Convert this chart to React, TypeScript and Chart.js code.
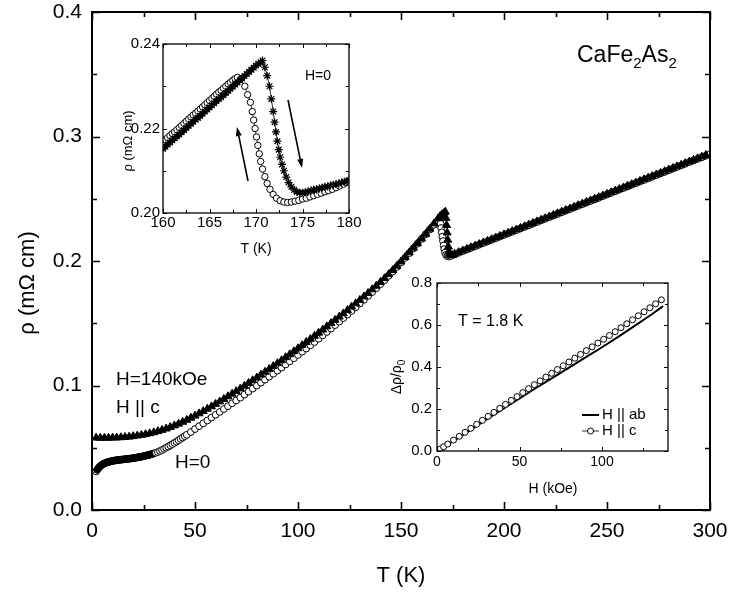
import React, { useEffect, useRef } from 'react';
import { Chart, registerables } from 'chart.js';
Chart.register(...registerables);

const FONT = "'Liberation Sans', Arial, Helvetica, sans-serif";

// ---------- main panel: rho(T) ----------
const H0_T = [
  2, 2.5, 3, 3.5, 4, 4.5, 5, 5.5, 6, 6.5,
  7, 7.5, 8, 8.5, 9, 9.5, 10, 10.5, 11, 11.5,
  12, 12.5, 13, 13.5, 14, 14.5, 15, 15.5, 16, 16.5,
  17, 17.5, 18, 18.5, 19, 19.5, 20, 20.5, 21, 21.5,
  22, 22.5, 23, 23.5, 24, 24.5, 25, 25.5, 26, 26.5,
  27, 27.5, 28, 28.5, 29, 29.5, 30,
  31, 32, 33, 34, 35, 36, 37, 38, 39, 40,
  41, 42, 43, 44, 45, 46,
  48, 50, 52, 54, 56, 58, 60, 62, 64, 66,
  68, 70, 72, 74, 76, 78, 80, 82, 84, 86,
  88, 90, 92, 94, 96, 98, 100, 102, 104, 106,
  108, 110, 112, 114, 116, 118, 120, 122, 124, 126,
  128, 130, 132, 134, 136, 138, 140, 142, 144, 146,
  148, 150, 152, 154, 156, 158, 160, 162, 164, 166,
  167, 168, 168.8, 169.2, 169.5, 169.8, 170.1, 170.4, 170.7, 171.0, 171.4, 171.9, 172.5, 173.2,
  174, 176, 178, 180, 182, 184, 186, 188, 190, 192,
  194, 196, 198, 200, 202, 204, 206, 208, 210, 212,
  214, 216, 218, 220, 222, 224, 226, 228, 230, 232,
  234, 236, 238, 240, 242, 244, 246, 248, 250, 252,
  254, 256, 258, 260, 262, 264, 266, 268, 270, 272,
  274, 276, 278, 280, 282, 284, 286, 288, 290, 292,
  294, 296, 298, 300,
];
const H0_RHO = [
  0.0310, 0.0323, 0.0334, 0.0344, 0.0352, 0.0359, 0.0365, 0.0370, 0.0374, 0.0378,
  0.0381, 0.0384, 0.0386, 0.0388, 0.0390, 0.0392, 0.0394, 0.0396, 0.0397, 0.0399,
  0.0400, 0.0401, 0.0402, 0.0403, 0.0404, 0.0405, 0.0406, 0.0407, 0.0408, 0.0409,
  0.0410, 0.0411, 0.0412, 0.0413, 0.0414, 0.0415, 0.0416, 0.0418, 0.0419, 0.0421,
  0.0422, 0.0424, 0.0425, 0.0427, 0.0428, 0.0430, 0.0432, 0.0434, 0.0436, 0.0438,
  0.0440, 0.0442, 0.0444, 0.0447, 0.0449, 0.0452, 0.0454,
  0.0460, 0.0466, 0.0474, 0.0482, 0.0491, 0.0500, 0.0509, 0.0519, 0.0529, 0.0539,
  0.0549, 0.0560, 0.0571, 0.0582, 0.0593, 0.0604,
  0.0627, 0.0650, 0.0673, 0.0696, 0.0719, 0.0742, 0.0765, 0.0788, 0.0811, 0.0834,
  0.0857, 0.0880, 0.0903, 0.0927, 0.0951, 0.0975, 0.0999, 0.1023, 0.1047, 0.1071,
  0.1095, 0.1119, 0.1144, 0.1169, 0.1194, 0.1219, 0.1245, 0.1271, 0.1297, 0.1323,
  0.1349, 0.1376, 0.1403, 0.1430, 0.1457, 0.1485, 0.1513, 0.1541, 0.1570, 0.1599,
  0.1628, 0.1658, 0.1688, 0.1719, 0.1750, 0.1782, 0.1814, 0.1847, 0.1881, 0.1916,
  0.1952, 0.1988, 0.2025, 0.2063, 0.2101, 0.2139, 0.2177, 0.2215, 0.2253, 0.2290,
  0.2308, 0.2326, 0.2335, 0.2300, 0.2265, 0.2230, 0.2195, 0.2160, 0.2125, 0.2095, 0.2068, 0.2050, 0.2040, 0.2036,
  0.2040, 0.2053, 0.2066, 0.2079, 0.2092, 0.2105, 0.2118, 0.2131, 0.2144, 0.2157,
  0.2170, 0.2183, 0.2196, 0.2209, 0.2222, 0.2235, 0.2248, 0.2261, 0.2274, 0.2287,
  0.2300, 0.2313, 0.2326, 0.2339, 0.2352, 0.2365, 0.2378, 0.2391, 0.2404, 0.2417,
  0.2430, 0.2443, 0.2456, 0.2469, 0.2482, 0.2495, 0.2508, 0.2521, 0.2534, 0.2547,
  0.2560, 0.2573, 0.2586, 0.2599, 0.2612, 0.2625, 0.2638, 0.2651, 0.2664, 0.2677,
  0.2690, 0.2703, 0.2716, 0.2729, 0.2742, 0.2755, 0.2768, 0.2781, 0.2794, 0.2807,
  0.2820, 0.2833, 0.2846, 0.2858,
];

const H140_T = [
  2, 4, 6, 8, 10, 12, 14, 16, 18, 20,
  22, 24, 26, 28, 30, 32, 34, 36, 38, 40,
  42, 44, 46, 48, 50, 52, 54, 56, 58, 60,
  62, 64, 66, 68, 70, 72, 74, 76, 78, 80,
  82, 84, 86, 88, 90, 92, 94, 96, 98, 100,
  102, 104, 106, 108, 110, 112, 114, 116, 118, 120,
  122, 124, 126, 128, 130, 132, 134, 136, 138, 140,
  142, 144, 146, 148, 150, 152, 154, 156, 158, 160,
  162, 164, 166, 168,
  169, 170, 171, 171.5, 171.8, 172.1, 172.4, 172.7, 173.0, 173.3, 173.7, 174.2, 175,
  176, 178, 180, 182, 184, 186, 188, 190, 192, 194,
  196, 198, 200, 202, 204, 206, 208, 210, 212, 214,
  216, 218, 220, 222, 224, 226, 228, 230, 232, 234,
  236, 238, 240, 242, 244, 246, 248, 250, 252, 254,
  256, 258, 260, 262, 264, 266, 268, 270, 272, 274,
  276, 278, 280, 282, 284, 286, 288, 290, 292, 294,
  296, 298,
];
const H140_RHO = [
  0.0580, 0.0579, 0.0579, 0.0579, 0.0580, 0.0581, 0.0583, 0.0585, 0.0588, 0.0592,
  0.0597, 0.0602, 0.0608, 0.0615, 0.0623, 0.0632, 0.0642, 0.0653, 0.0665, 0.0678,
  0.0692, 0.0707, 0.0723, 0.0740, 0.0757, 0.0775, 0.0793, 0.0812, 0.0831, 0.0851,
  0.0871, 0.0891, 0.0912, 0.0933, 0.0954, 0.0975, 0.0997, 0.1019, 0.1041, 0.1063,
  0.1086, 0.1109, 0.1132, 0.1155, 0.1178, 0.1202, 0.1226, 0.1250, 0.1274, 0.1298,
  0.1323, 0.1348, 0.1373, 0.1398, 0.1423, 0.1448, 0.1474, 0.1500, 0.1526, 0.1552,
  0.1578, 0.1605, 0.1632, 0.1659, 0.1686, 0.1714, 0.1742, 0.1771, 0.1800, 0.1830,
  0.1861, 0.1893, 0.1926, 0.1960, 0.1995, 0.2031, 0.2068, 0.2105, 0.2142, 0.2179,
  0.2217, 0.2258, 0.2300, 0.2342,
  0.2360, 0.2375, 0.2388, 0.2395, 0.2345, 0.2288, 0.2228, 0.2170, 0.2115, 0.2075, 0.2052, 0.2044, 0.2046,
  0.2057, 0.2070, 0.2083, 0.2096, 0.2109, 0.2122, 0.2135, 0.2148, 0.2161, 0.2174,
  0.2187, 0.2200, 0.2213, 0.2226, 0.2239, 0.2252, 0.2265, 0.2278, 0.2291, 0.2304,
  0.2317, 0.2330, 0.2343, 0.2356, 0.2369, 0.2382, 0.2395, 0.2408, 0.2421, 0.2434,
  0.2447, 0.2460, 0.2473, 0.2486, 0.2499, 0.2512, 0.2525, 0.2538, 0.2551, 0.2564,
  0.2577, 0.2590, 0.2603, 0.2616, 0.2629, 0.2642, 0.2655, 0.2668, 0.2681, 0.2694,
  0.2707, 0.2720, 0.2733, 0.2746, 0.2759, 0.2772, 0.2785, 0.2798, 0.2811, 0.2824,
  0.2837, 0.2850,
];

const MAIN_X_MAJOR = [0, 50, 100, 150, 200, 250, 300];
const MAIN_X_MINOR = [25, 75, 125, 175, 225, 275];
const MAIN_Y_MAJOR = [0, 0.1, 0.2, 0.3, 0.4];
const MAIN_Y_MINOR = [0.05, 0.15, 0.25, 0.35];

// ---------- inset 1: hysteresis near 170 K ----------
const COOL_T = [
  160, 160.25, 160.5, 160.75, 161, 161.25, 161.5, 161.75, 162, 162.25,
  162.5, 162.75, 163, 163.25, 163.5, 163.75, 164, 164.25, 164.5, 164.75,
  165, 165.25, 165.5, 165.75, 166, 166.25, 166.5, 166.75, 167, 167.25,
  167.5, 167.75, 168,
  168.4, 168.8, 169.1, 169.4, 169.6, 169.75, 169.9, 170.05, 170.2, 170.35,
  170.5, 170.7, 170.95, 171.2, 171.5, 171.85, 172.2, 172.6, 173.0, 173.4,
  173.8, 174.2, 174.6, 175.0, 175.4, 175.8, 176.2, 176.6, 177.0, 177.4,
  177.8, 178.2, 178.6, 179.0, 179.4, 179.8,
];
const COOL_RHO = [
  0.2168, 0.2173, 0.2178, 0.2183, 0.2188, 0.2192, 0.2197, 0.2202, 0.2207, 0.2212,
  0.2217, 0.2222, 0.2227, 0.2232, 0.2236, 0.2241, 0.2246, 0.2251, 0.2256, 0.2261,
  0.2266, 0.2271, 0.2276, 0.2281, 0.2286, 0.2290, 0.2295, 0.2300, 0.2305, 0.2309,
  0.2314, 0.2318, 0.2321,
  0.2318, 0.2300, 0.2280, 0.2262, 0.2240, 0.2220, 0.2200, 0.2180, 0.2160, 0.2140,
  0.2122, 0.2104, 0.2086, 0.2070, 0.2056, 0.2044, 0.2035, 0.2029, 0.2026, 0.2025,
  0.2026, 0.2028, 0.2030, 0.2033, 0.2035, 0.2038, 0.2041, 0.2044, 0.2047, 0.2050,
  0.2053, 0.2056, 0.2060, 0.2064, 0.2068, 0.2072,
];
const WARM_T = [
  160, 160.25, 160.5, 160.75, 161, 161.25, 161.5, 161.75, 162, 162.25,
  162.5, 162.75, 163, 163.25, 163.5, 163.75, 164, 164.25, 164.5, 164.75,
  165, 165.25, 165.5, 165.75, 166, 166.25, 166.5, 166.75, 167, 167.25,
  167.5, 167.75, 168, 168.25, 168.5, 168.75, 169, 169.25, 169.5, 169.75,
  170, 170.25, 170.5, 170.7,
  170.95, 171.2, 171.45, 171.65, 171.85, 172.0, 172.15, 172.3, 172.45, 172.6,
  172.8, 173.0, 173.25, 173.5, 173.8, 174.1, 174.4, 174.7, 175.0, 175.3,
  175.6, 175.9, 176.2, 176.5, 176.8, 177.1, 177.4, 177.7, 178.0, 178.3,
  178.6, 178.9, 179.2, 179.5, 179.8, 180,
];
const WARM_RHO = [
  0.2152, 0.2157, 0.2162, 0.2167, 0.2172, 0.2177, 0.2181, 0.2186, 0.2191, 0.2196,
  0.2201, 0.2206, 0.2211, 0.2216, 0.2221, 0.2225, 0.2230, 0.2235, 0.2240, 0.2245,
  0.2250, 0.2255, 0.2260, 0.2265, 0.2270, 0.2274, 0.2279, 0.2284, 0.2289, 0.2294,
  0.2299, 0.2304, 0.2309, 0.2314, 0.2319, 0.2324, 0.2329, 0.2334, 0.2339, 0.2344,
  0.2349, 0.2353, 0.2357, 0.2361,
  0.2345, 0.2325, 0.2300, 0.2270, 0.2240, 0.2215, 0.2192, 0.2170, 0.2150, 0.2132,
  0.2115, 0.2100, 0.2085, 0.2072, 0.2062, 0.2055, 0.2050, 0.2048, 0.2048, 0.2049,
  0.2051, 0.2053, 0.2055, 0.2056, 0.2058, 0.2060, 0.2062, 0.2063, 0.2065, 0.2067,
  0.2068, 0.2070, 0.2072, 0.2074, 0.2076, 0.2077,
];
const IN1_X_MAJOR = [160, 165, 170, 175, 180];
const IN1_X_MINOR = [162.5, 167.5, 172.5, 177.5];
const IN1_Y_MAJOR = [0.2, 0.22, 0.24];
const IN1_Y_MINOR = [0.21, 0.23];

// ---------- inset 2: magnetoresistance at 1.8 K ----------
const HC_H = [
  0.5, 2, 4, 6.5, 10, 13.5, 17, 20.5, 24, 27.5,
  31, 34.5, 38, 41.5, 45, 48.5, 52, 55.5, 59, 62.5,
  66, 69.5, 73, 76.5, 80, 83.5, 87, 90.5, 94, 97.5,
  101, 104.5, 108, 111.5, 115, 118.5, 122, 125.5, 129, 132.5, 136,
];
const HC_DR = [
  0.003, 0.010, 0.020, 0.033, 0.052, 0.070, 0.089, 0.108, 0.127, 0.146,
  0.165, 0.184, 0.203, 0.222, 0.241, 0.259, 0.278, 0.297, 0.316, 0.334,
  0.352, 0.370, 0.388, 0.406, 0.424, 0.442, 0.460, 0.478, 0.496, 0.514,
  0.532, 0.550, 0.568, 0.587, 0.606, 0.625, 0.644, 0.663, 0.682, 0.701, 0.720,
];
const HAB_H = [0, 10, 20, 30, 40, 50, 60, 70, 80, 90, 100, 110, 120, 130, 137];
const HAB_DR = [0, 0.048, 0.098, 0.150, 0.200, 0.250, 0.300, 0.348, 0.397, 0.446, 0.494, 0.545, 0.597, 0.650, 0.690];
const IN2_X_MAJOR = [0, 50, 100];
const IN2_X_MINOR = [25, 75, 125];
const IN2_Y_MAJOR = [0, 0.2, 0.4, 0.6, 0.8];
const IN2_Y_MINOR = [0.1, 0.3, 0.5, 0.7];

const pts = (xs: number[], ys: number[]) => xs.map((x, i) => ({ x, y: ys[i] }));

type TickCfg = {
  xMajor: number[]; xMinor: number[]; yMajor: number[]; yMinor: number[];
  major: number; minor: number; lw: number; frameLw: number;
};

function framePlugin(o: TickCfg) {
  return {
    id: 'frameTicks',
    afterDraw(chart: any) {
      const { ctx, chartArea: a, scales } = chart;
      const xs = scales.x;
      const ys = scales.y;
      ctx.save();
      ctx.strokeStyle = '#000';
      ctx.lineWidth = o.lw;
      ctx.beginPath();
      const vx = (vals: number[], len: number) => {
        for (const v of vals) {
          const p = Math.round(xs.getPixelForValue(v)) + 0.5;
          ctx.moveTo(p, a.bottom); ctx.lineTo(p, a.bottom - len);
          ctx.moveTo(p, a.top); ctx.lineTo(p, a.top + len);
        }
      };
      const vy = (vals: number[], len: number) => {
        for (const v of vals) {
          const p = Math.round(ys.getPixelForValue(v)) + 0.5;
          ctx.moveTo(a.left, p); ctx.lineTo(a.left + len, p);
          ctx.moveTo(a.right, p); ctx.lineTo(a.right - len, p);
        }
      };
      vx(o.xMajor, o.major); vx(o.xMinor, o.minor);
      vy(o.yMajor, o.major); vy(o.yMinor, o.minor);
      ctx.stroke();
      ctx.lineWidth = o.frameLw;
      ctx.strokeRect(a.left, a.top, a.right - a.left, a.bottom - a.top);
      ctx.restore();
    },
  };
}

function textPlugin(draw: (ctx: CanvasRenderingContext2D) => void) {
  return {
    id: 'texts',
    afterDraw(chart: any) {
      const ctx = chart.ctx as CanvasRenderingContext2D;
      ctx.save();
      ctx.fillStyle = '#000';
      ctx.strokeStyle = '#000';
      draw(ctx);
      ctx.restore();
    },
  };
}

function txt(ctx: CanvasRenderingContext2D, s: string, x: number, y: number, size: number,
  align: CanvasTextAlign = 'left', baseline: CanvasTextBaseline = 'alphabetic') {
  ctx.font = `${size}px ${FONT}`;
  ctx.textAlign = align;
  ctx.textBaseline = baseline;
  ctx.fillText(s, x, y);
}

function vtxt(ctx: CanvasRenderingContext2D, s: string, x: number, y: number, size: number) {
  ctx.save();
  ctx.translate(x, y);
  ctx.rotate(-Math.PI / 2);
  txt(ctx, s, 0, 0, size, 'center', 'middle');
  ctx.restore();
}

function arrow(ctx: CanvasRenderingContext2D, x1: number, y1: number, x2: number, y2: number) {
  const ang = Math.atan2(y2 - y1, x2 - x1);
  const hl = 9, hw = 3;
  const bx = x2 - Math.cos(ang) * hl, by = y2 - Math.sin(ang) * hl;
  ctx.lineWidth = 1.6;
  ctx.beginPath(); ctx.moveTo(x1, y1); ctx.lineTo(bx, by); ctx.stroke();
  ctx.beginPath();
  ctx.moveTo(x2, y2);
  ctx.lineTo(bx + Math.sin(ang) * hw, by - Math.cos(ang) * hw);
  ctx.lineTo(bx - Math.sin(ang) * hw, by + Math.cos(ang) * hw);
  ctx.closePath(); ctx.fill();
}

const baseOpts = {
  animation: false as const,
  responsive: false,
  maintainAspectRatio: false,
  devicePixelRatio: 1,
  events: [] as any[],
  plugins: { legend: { display: false }, tooltip: { enabled: false } },
};

function makeMain(canvas: HTMLCanvasElement) {
  return new Chart(canvas, {
    type: 'scatter',
    data: {
      datasets: [
        {
          data: pts(H140_T, H140_RHO), pointStyle: 'triangle', pointRadius: 4.6,
          backgroundColor: '#000', borderColor: '#000', borderWidth: 1, showLine: false,
        },
        {
          data: pts(H0_T, H0_RHO), pointStyle: 'circle', pointRadius: 3.4,
          // densely measured low-T points merge into a solid band
          backgroundColor: (c: any) => (c.raw && c.dataIndex > 0 && c.raw.x <= 30 ? '#000' : '#fff'),
          borderColor: '#000', borderWidth: 1, showLine: false,
        },
      ],
    },
    options: {
      ...baseOpts,
      layout: { padding: { left: 0, top: 12, right: 22, bottom: 0 } },
      scales: {
        x: {
          type: 'linear', min: 0, max: 300,
          grid: { display: false, drawTicks: false }, border: { display: false },
          ticks: { stepSize: 50, color: '#000', font: { family: FONT, size: 21 }, padding: 9, maxRotation: 0, autoSkip: false },
          afterFit: (s: any) => { s.height = 84; s.paddingLeft = 0; s.paddingRight = 0; },
        },
        y: {
          type: 'linear', min: 0, max: 0.4,
          grid: { display: false, drawTicks: false }, border: { display: false },
          ticks: { stepSize: 0.1, color: '#000', font: { family: FONT, size: 21 }, padding: 10, callback: (v: any) => Number(v).toFixed(1) },
          afterFit: (s: any) => { s.width = 92; s.paddingTop = 0; s.paddingBottom = 0; },
        },
      },
    } as any,
    plugins: [
      framePlugin({ xMajor: MAIN_X_MAJOR, xMinor: MAIN_X_MINOR, yMajor: MAIN_Y_MAJOR, yMinor: MAIN_Y_MINOR, major: 8, minor: 5, lw: 1.6, frameLw: 2 }),
      textPlugin((ctx) => {
        txt(ctx, 'T (K)', 401, 576, 22, 'center', 'middle');
        vtxt(ctx, 'ρ (mΩ cm)', 28, 283, 22);
        txt(ctx, 'H=140kOe', 116, 385, 19);
        txt(ctx, 'H || c', 116, 413, 19);
        txt(ctx, 'H=0', 175, 468, 19);
        let x = 577;
        const base = 62;
        const part = (s: string, size: number, dy: number) => {
          ctx.font = `${size}px ${FONT}`;
          ctx.textAlign = 'left'; ctx.textBaseline = 'alphabetic';
          ctx.fillText(s, x, base + dy);
          x += ctx.measureText(s).width;
        };
        part('CaFe', 23, 0); part('2', 15, 6); part('As', 23, 0); part('2', 15, 6);
      }),
    ],
  });
}

function makeInset1(canvas: HTMLCanvasElement) {
  return new Chart(canvas, {
    type: 'scatter',
    data: {
      datasets: [
        {
          data: pts(WARM_T, WARM_RHO), showLine: true, borderColor: '#000', borderWidth: 0.8,
          pointStyle: 'star', pointRadius: 4, pointBackgroundColor: '#000', pointBorderColor: '#000', pointBorderWidth: 1.2,
        },
        {
          data: pts(COOL_T, COOL_RHO), showLine: true, borderColor: '#000', borderWidth: 0.8,
          pointStyle: 'circle', pointRadius: 3.2, pointBackgroundColor: '#fff', pointBorderColor: '#000', pointBorderWidth: 1,
        },
      ],
    },
    options: {
      ...baseOpts,
      layout: { padding: { left: 0, top: 24, right: 13, bottom: 0 } },
      scales: {
        x: {
          type: 'linear', min: 160, max: 180,
          grid: { display: false, drawTicks: false }, border: { display: false },
          ticks: { stepSize: 5, color: '#000', font: { family: FONT, size: 15 }, padding: 1, maxRotation: 0, autoSkip: false },
          afterFit: (s: any) => { s.height = 47; s.paddingLeft = 0; s.paddingRight = 0; },
        },
        y: {
          type: 'linear', min: 0.2, max: 0.24,
          grid: { display: false, drawTicks: false }, border: { display: false },
          ticks: { stepSize: 0.02, color: '#000', font: { family: FONT, size: 15 }, padding: 3, callback: (v: any) => Number(v).toFixed(2) },
          afterFit: (s: any) => { s.width = 63; s.paddingTop = 0; s.paddingBottom = 0; },
        },
      },
    } as any,
    plugins: [
      framePlugin({ xMajor: IN1_X_MAJOR, xMinor: IN1_X_MINOR, yMajor: IN1_Y_MAJOR, yMinor: IN1_Y_MINOR, major: 4, minor: 3, lw: 1, frameLw: 1.3 }),
      textPlugin((ctx) => {
        txt(ctx, 'T (K)', 156, 229, 14, 'center', 'middle');
        vtxt(ctx, 'ρ (mΩ cm)', 28, 121, 13);
        txt(ctx, 'H=0', 205, 60, 14);
        arrow(ctx, 148, 161, 137, 107);
        arrow(ctx, 188, 80, 202, 148);
      }),
    ],
  });
}

function makeInset2(canvas: HTMLCanvasElement) {
  return new Chart(canvas, {
    type: 'scatter',
    data: {
      datasets: [
        {
          data: pts(HC_H, HC_DR), showLine: true, borderColor: '#000', borderWidth: 0.6,
          pointStyle: 'circle', pointRadius: 3, pointBackgroundColor: '#fff', pointBorderColor: '#000', pointBorderWidth: 1,
        },
        {
          data: pts(HAB_H, HAB_DR), showLine: true, borderColor: '#000', borderWidth: 2, pointRadius: 0,
        },
      ],
    },
    options: {
      ...baseOpts,
      layout: { padding: { left: 0, top: 13, right: 14, bottom: 0 } },
      scales: {
        x: {
          type: 'linear', min: 0, max: 140,
          grid: { display: false, drawTicks: false }, border: { display: false },
          ticks: { stepSize: 50, includeBounds: false, color: '#000', font: { family: FONT, size: 14 }, padding: 3, maxRotation: 0, autoSkip: false },
          afterFit: (s: any) => { s.height = 54; s.paddingLeft = 0; s.paddingRight = 0; },
        },
        y: {
          type: 'linear', min: 0, max: 0.8,
          grid: { display: false, drawTicks: false }, border: { display: false },
          ticks: { stepSize: 0.2, color: '#000', font: { family: FONT, size: 15 }, padding: 5, callback: (v: any) => Number(v).toFixed(1) },
          afterFit: (s: any) => { s.width = 67; s.paddingTop = 0; s.paddingBottom = 0; },
        },
      },
    } as any,
    plugins: [
      framePlugin({ xMajor: IN2_X_MAJOR, xMinor: IN2_X_MINOR, yMajor: IN2_Y_MAJOR, yMinor: IN2_Y_MINOR, major: 4, minor: 3, lw: 1, frameLw: 1.3 }),
      textPlugin((ctx) => {
        txt(ctx, 'T = 1.8 K', 88, 52, 16, 'left', 'middle');
        txt(ctx, 'H (kOe)', 183, 219, 14, 'center', 'middle');
        ctx.save();
        ctx.translate(27, 107);
        ctx.rotate(-Math.PI / 2);
        ctx.font = `14px ${FONT}`;
        const w1 = ctx.measureText('Δρ/ρ').width;
        ctx.font = `10px ${FONT}`;
        const w2 = ctx.measureText('0').width;
        const x0 = -(w1 + w2) / 2;
        txt(ctx, 'Δρ/ρ', x0, 4, 14);
        txt(ctx, '0', x0 + w1, 8, 10);
        ctx.restore();
        ctx.lineWidth = 2;
        ctx.beginPath(); ctx.moveTo(212, 145); ctx.lineTo(229, 145); ctx.stroke();
        txt(ctx, 'H || ab', 232, 145, 15, 'left', 'middle');
        ctx.lineWidth = 0.8;
        ctx.beginPath(); ctx.moveTo(212, 161); ctx.lineTo(229, 161); ctx.stroke();
        ctx.fillStyle = '#fff';
        ctx.lineWidth = 1;
        ctx.beginPath(); ctx.arc(220.5, 161, 3, 0, Math.PI * 2); ctx.fill(); ctx.stroke();
        ctx.fillStyle = '#000';
        txt(ctx, 'H || c', 232, 161, 15, 'left', 'middle');
      }),
    ],
  });
}

export default function App() {
  const mainRef = useRef<HTMLCanvasElement>(null);
  const in1Ref = useRef<HTMLCanvasElement>(null);
  const in2Ref = useRef<HTMLCanvasElement>(null);
  useEffect(() => {
    const charts = [
      makeMain(mainRef.current!),
      makeInset1(in1Ref.current!),
      makeInset2(in2Ref.current!),
    ];
    return () => charts.forEach((c) => c.destroy());
  }, []);
  return (
    <div style={{ position: 'fixed', left: 0, top: 0, width: 732, height: 594, background: '#fff' }}>
      <canvas ref={mainRef} width={732} height={594} style={{ position: 'absolute', left: 0, top: 0, width: 732, height: 594 }} />
      <canvas ref={in1Ref} width={262} height={240} style={{ position: 'absolute', left: 100, top: 20, width: 262, height: 240 }} />
      <canvas ref={in2Ref} width={312} height={235} style={{ position: 'absolute', left: 370, top: 270, width: 312, height: 235 }} />
    </div>
  );
}
